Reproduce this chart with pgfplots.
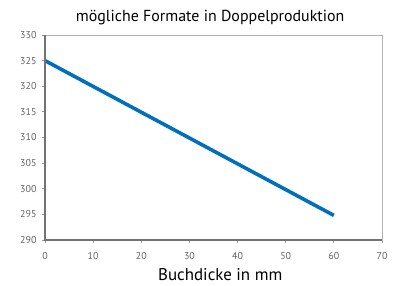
\documentclass[border=0pt]{standalone}
\usepackage{pgfplots}
\pgfplotsset{compat=1.18}
\usepackage{fontspec}
\setmainfont{PT Sans}
\definecolor{lineblue}{RGB}{0,112,188}
\definecolor{tickgray}{RGB}{100,100,100}
\begin{document}
\begin{tikzpicture}[x=1bp,y=1bp]
\useasboundingbox (0,0) rectangle (398,286);
\begin{axis}[
  at={(45bp,46bp)}, anchor=south west,
  scale only axis, width=337bp, height=205bp,
  xmin=0, xmax=70, ymin=290, ymax=330,
  xtick={0,10,...,70}, ytick={290,295,...,330},
  tick pos=left, tick align=outside,
  major tick length=3bp,
  tick style={color=gray!80, line width=0.8bp},
  axis line style={draw=black!30, line width=0.8bp},
  ticklabel style={font=\fontsize{10}{11}\selectfont, text=tickgray},
  xticklabel style={yshift=-6bp},
  yticklabel style={xshift=-2bp},
  /pgf/number format/assume math mode=true,
  title={mögliche Formate in Doppelproduktion},
  title style={font=\fontsize{16}{18}\selectfont, at={(axis description cs:0.49,1)}, anchor=base, yshift=8bp},
  xlabel={Buchdicke in mm},
  xlabel style={font=\fontsize{17}{19}\selectfont, at={(axis description cs:0.52,0)}, anchor=base, yshift=-40bp},
  clip=false,
]
\addplot[lineblue, line width=3.6bp] coordinates {(0,325) (60,294.8)};
\draw[black!55, line width=1.8bp] (rel axis cs:0,1) -- (rel axis cs:0,0) -- (rel axis cs:1,0);
\end{axis}
\end{tikzpicture}
\end{document}
